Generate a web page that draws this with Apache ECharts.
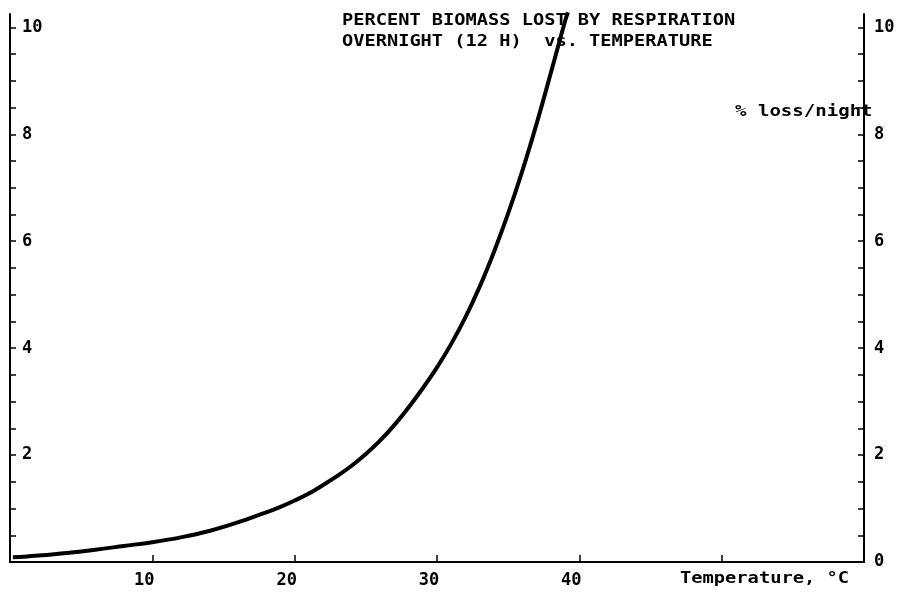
<!DOCTYPE html>
<html>
<head>
<meta charset="utf-8">
<script src="https://cdn.jsdelivr.net/npm/echarts@6/dist/echarts.min.js"></script>
<style>
html,body{margin:0;padding:0;background:#fff;}
#chart{width:899px;height:593px;}
</style>
</head>
<body>
<div id="chart"></div>
<script>
// Temperature (°C) and percent biomass lost overnight
const temps = [0.2, 1, 2, 4, 6, 8, 10, 12, 14, 16, 18, 19, 20, 21, 22, 23, 24, 25, 26, 27, 28, 29, 30, 31, 32, 33, 34, 35, 36, 37, 38, 39, 39.2];
const loss  = [0.09, 0.10, 0.12, 0.17, 0.23, 0.30, 0.37, 0.46, 0.58, 0.74, 0.93, 1.03, 1.15, 1.28, 1.44, 1.61, 1.80, 2.02, 2.27, 2.56, 2.89, 3.25, 3.64, 4.08, 4.58, 5.15, 5.80, 6.52, 7.32, 8.20, 9.15, 10.12, 10.28];

// Axis ticks and labels
const xTicks = [10, 20, 30, 40, 50];
const xLabels = [10, 20, 30, 40];
const yTicks = [0, 0.5, 1, 1.5, 2, 2.5, 3, 3.5, 4, 4.5, 5, 5.5, 6, 6.5, 7, 7.5, 8, 8.5, 9, 9.5, 10];
const yLabelsLeft = [2, 4, 6, 8, 10];
const yLabelsRight = [0, 2, 4, 6, 8, 10];

const titleLine1 = 'PERCENT BIOMASS LOST BY RESPIRATION';
const titleLine2 = 'OVERNIGHT (12 H)  vs. TEMPERATURE';
const yName = '% loss/night';
const xName = 'Temperature, °C';

const FONT = '"DejaVu Sans Mono", "Liberation Mono", monospace';

const chart = echarts.init(document.getElementById('chart'), null, {renderer: 'canvas'});

const axisLineStyle = {show: true, lineStyle: {color: '#000', width: 2}};

function yAxisDef(position, labels, inside) {
  return {
    type: 'value',
    position: position,
    min: 0,
    max: 10.25,
    splitLine: {show: false},
    axisLine: axisLineStyle,
    axisTick: {show: true, inside: true, length: 6, customValues: yTicks, lineStyle: {color: '#000', width: 1.5}},
    axisLabel: {
      show: true,
      inside: inside,
      margin: inside ? 12 : 10,
      customValues: labels,
      color: '#000',
      fontFamily: FONT,
      fontWeight: 'bold',
      fontSize: 17,
      padding: [0, 0, 7, 0],
      formatter: v => String(v)
    }
  };
}

const option = {
  backgroundColor: '#fff',
  animation: false,
  grid: {left: 10, right: 35, top: 14, bottom: 31, containLabel: false},
  xAxis: {
    type: 'value',
    min: 0,
    max: 60,
    interval: 10,
    splitLine: {show: false},
    axisLine: axisLineStyle,
    axisTick: {show: true, inside: true, length: 7, customValues: xTicks, lineStyle: {color: '#000', width: 1.5}},
    axisLabel: {
      customValues: xLabels,
      margin: 10,
      color: '#000',
      fontFamily: FONT,
      fontWeight: 'bold',
      fontSize: 17,
      padding: [0, 16, 0, 0],
      formatter: v => String(v)
    }
  },
  yAxis: [
    yAxisDef('left', yLabelsLeft, true),
    yAxisDef('right', yLabelsRight, false)
  ],
  series: [{
    type: 'line',
    data: temps.map((t, i) => [t, loss[i]]),
    smooth: 0.4,
    showSymbol: false,
    clip: false,
    lineStyle: {color: '#000', width: 4}
  }],
  graphic: [
    {type: 'text', x: 342, y: 21, scaleX: 1.166, style: {text: titleLine1, font: 'bold 16px ' + FONT, fill: '#000', verticalAlign: 'middle'}},
    {type: 'text', x: 342, y: 42, scaleX: 1.166, style: {text: titleLine2, font: 'bold 16px ' + FONT, fill: '#000', verticalAlign: 'middle'}},
    {type: 'text', x: 735, y: 112, scaleX: 1.19, style: {text: yName, font: 'bold 16px ' + FONT, fill: '#000', verticalAlign: 'middle'}},
    {type: 'text', x: 680, y: 579, scaleX: 1.17, style: {text: xName, font: 'bold 16px ' + FONT, fill: '#000', verticalAlign: 'middle'}}
  ]
};
chart.setOption(option);
</script>
</body>
</html>
